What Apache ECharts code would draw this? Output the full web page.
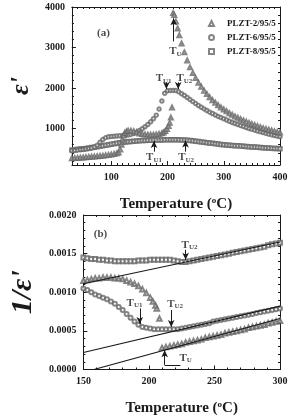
<!DOCTYPE html>
<html><head><meta charset="utf-8">
<script src="https://cdn.jsdelivr.net/npm/echarts@6/dist/echarts.min.js"></script>
<style>html,body{margin:0;padding:0;background:#fff}#c{width:291px;height:417px}</style>
</head><body><div id="c"></div>
<script>
// ---------- Panel (a): epsilon' vs temperature ----------
const tempA = [30,35,40,45,50,55,60,65,70,75,80,85,90,95,100,105,110,115,120,125,130,135,140,145,150,155,160,165,170,175,180,185,190,195,200,205,210,215,220,225,230,235,240,245,250,255,260,265,270,275,280,285,290,295,300,305,310,315,320,325,330,335,340,345,350,355,360,365,370,375,380,385,390,395,400];
const epsA_8 = [470,478,486,494,502,510,520,530,540,552,565,578,590,602,614,626,637,648,658,667,675,682,688,693,698,702,706,709,712,715,717,719,720,721,722,723,724,724,723,720,716,711,704,696,688,679,670,661,652,643,634,625,617,609,602,596,590,584,578,573,567,562,557,552,547,542,537,532,527,522,518,513,509,505,501];
const epsA_6 = [450,458,466,475,484,494,505,520,545,590,660,730,775,795,805,810,815,820,826,833,842,855,875,905,950,995,1045,1100,1165,1240,1330,1480,1680,1870,1930,1940,1942,1938,1905,1860,1815,1765,1715,1665,1615,1570,1525,1485,1445,1405,1370,1335,1300,1270,1240,1210,1180,1150,1125,1100,1075,1050,1025,1000,980,960,940,920,900,880,862,845,828,812,795];
const tempA_2 = [30,35,40,45,50,55,60,65,70,75,80,85,90,95,100,105,110,113,116,118,120,122,124,127,130,135,140,145,150,155,160,165,170,175,180,185,190,193,196,199,202,204,206,208,210,212,215,218,221,225,230,235,240,245,250,255,260,265,270,275,280,285,290,295,300,305,310,315,320,325,330,335,340,345,350,355,360,365,370,375,380,385,390,395,400];
const epsA_2 = [265,270,275,280,285,290,296,302,308,315,322,330,338,347,357,370,388,410,480,600,730,830,890,930,945,948,935,910,880,865,855,850,848,850,855,865,885,905,940,990,1060,1140,1270,1520,3850,3800,3640,3470,3300,3100,2880,2680,2510,2370,2245,2130,2030,1935,1850,1770,1700,1635,1575,1520,1470,1425,1380,1340,1300,1265,1230,1200,1170,1140,1110,1085,1060,1035,1010,990,970,950,930,915,900];

// ---------- Panel (b): 1/epsilon' vs temperature ----------
const tempB = [150,153,156,159,162,165,168,171,174,177,180,183,186,189,192,195,198,201,204,207,210,213,216,219,222,225,228,231,234,237,240,243,246,249,252,255,258,261,264,267,270,273,276,279,282,285,288,291,294,297,300];
const invB_8 = [0.00145,0.00144,0.00143,0.00143,0.00142,0.00142,0.00141,0.00141,0.00140,0.00140,0.00140,0.00140,0.00140,0.00140,0.00141,0.00141,0.00141,0.00142,0.00142,0.00142,0.00142,0.00142,0.00142,0.00141,0.00140,0.00139,0.00139,0.00140,0.00141,0.00142,0.00143,0.00144,0.00145,0.00146,0.00147,0.00148,0.00149,0.00150,0.00151,0.00152,0.00153,0.00154,0.00155,0.00156,0.00157,0.00158,0.00159,0.00161,0.00162,0.00163,0.00164];
const invB_6 = [0.00105,0.00103,0.00100,0.00097,0.00095,0.00093,0.00091,0.00088,0.00085,0.00081,0.00077,0.00072,0.00067,0.00062,0.00058,0.00055,0.00054,0.00053,0.00052,0.00052,0.00052,0.00052,0.00052,0.00052,0.00052,0.00053,0.00054,0.00055,0.00056,0.00057,0.00058,0.00059,0.00060,0.00062,0.00063,0.00064,0.00065,0.00066,0.00067,0.00068,0.00069,0.00070,0.00071,0.00072,0.00073,0.00074,0.00075,0.00076,0.00077,0.00078,0.00079];
const tempB_2 = [150,153,156,159,162,165,168,171,174,177,180,183,186,189,192,195,198,201,203,205,206,208,210,213,216,219,222,225,228,231,234,237,240,243,246,249,252,255,258,261,264,267,270,273,276,279,282,285,288,291,294,297,300];
const invB_2 = [0.00115,0.00116,0.00117,0.00118,0.00118,0.00119,0.00119,0.00119,0.00118,0.00118,0.00117,0.00115,0.00113,0.00111,0.00108,0.00104,0.00099,0.00093,0.00088,0.00083,0.00079,0.00066,0.00028,0.00029,0.00030,0.00031,0.00032,0.00033,0.00035,0.00036,0.00037,0.00038,0.00039,0.00041,0.00042,0.00043,0.00044,0.00045,0.00047,0.00048,0.00049,0.00050,0.00051,0.00052,0.00054,0.00055,0.00056,0.00057,0.00058,0.00060,0.00061,0.00062,0.00063];
// linear (Curie-Weiss) fit lines in panel (b): endpoints
const fitT_8 = [150, 300], fitV_8 = [0.00111, 0.00165];
const fitT_6 = [150, 300], fitV_6 = [0.00022, 0.00082];
const fitT_2 = [158, 300], fitV_2 = [0.0, 0.00066];

// tick labels
const xTicksA = [100, 200, 300, 400];
const yTicksA = [1000, 2000, 3000, 4000];
const xTicksB = [150, 200, 250, 300];
const yTicksB = [0, 0.0005, 0.0010, 0.0015, 0.0020];
const names = ['PLZT-2/95/5', 'PLZT-6/95/5', 'PLZT-8/95/5'];
const legendIcons = ['emptyTriangle', 'emptyCircle', 'emptyRect'];

// annotations [T, value, subscript]
const labelsA = [[214, 2900, 'U'], [193, 2240, 'U1'], [230, 2240, 'U2'], [176, 290, 'U1'], [233, 290, 'U2']];
const arrowsA = [[211, 3150, 211, 3720], [198, 2140, 198, 1975], [219, 2140, 219, 1975], [176, 430, 176, 690], [232, 430, 232, 705]];
const labelsB = [[231, 0.00161, 'U2'], [189, 0.00086, 'U1'], [220, 0.00085, 'U2'], [228, 0.00015, 'U']];
const arrowsB = [[228, 0.00155, 228, 0.00142], [193, 0.00079, 193, 0.00059], [217, 0.00077, 217, 0.00055], [212, 0.00006, 212, 0.00025]];
const segsB = [[212, 0.00006, 224, 0.00006]];

const FONT = 'Liberation Serif';
const INK = '#1a1a1a';
const MARK = '#666666';
function steps(a, b, s) { const r = []; for (let v = a; v <= b + 1e-12; v += s) r.push(+v.toFixed(6)); return r; }
function pairs(xs, ys) { const n = Math.min(xs.length, ys.length); const r = []; for (let i = 0; i < n; i++) r.push([xs[i], ys[i]]); return r; }

const lab = { fontFamily: FONT, fontWeight: 'bold', fontSize: 10, color: INK };
const tempName = '{a|Temperature (}{s|o}{a|C)}';
const tempRich = { a: { fontFamily: FONT, fontWeight: 'bold', fontSize: 15, color: INK }, s: { fontFamily: FONT, fontWeight: 'bold', fontSize: 9, color: INK, padding: [0, 0, 7, 0] } };

function xAxes(g, min, max, major, minor) {
  return [
    { gridIndex: g, type: 'value', min, max, position: 'bottom',
      axisLine: { onZero: false, lineStyle: { color: INK, width: 1 } },
      axisTick: { inside: true, length: 4, customValues: major, lineStyle: { color: INK } },
      axisLabel: Object.assign({ customValues: major, margin: 7 }, lab),
      splitLine: { show: false },
      name: tempName, nameLocation: 'middle', nameGap: 31, nameTextStyle: { rich: tempRich } },
    { gridIndex: g, type: 'value', min, max, position: 'bottom',
      axisLine: { show: false, onZero: false },
      axisTick: { inside: true, length: 2, customValues: minor, lineStyle: { color: INK } },
      axisLabel: { show: false }, splitLine: { show: false } },
    { gridIndex: g, type: 'value', min, max, position: 'top',
      axisLine: { onZero: false, lineStyle: { color: INK, width: 1 } },
      axisTick: { inside: true, length: 2, customValues: minor, lineStyle: { color: INK } },
      axisLabel: { show: false }, splitLine: { show: false } }
  ];
}
function yAxes(g, min, max, major, minor, name, nameSize, fmt, gap) {
  return [
    { gridIndex: g, type: 'value', min, max, position: 'left',
      axisLine: { onZero: false, lineStyle: { color: INK, width: 1 } },
      axisTick: { inside: true, length: 4, customValues: major, lineStyle: { color: INK } },
      axisLabel: Object.assign({ customValues: major, margin: 7, formatter: fmt }, lab),
      splitLine: { show: false },
      name, nameLocation: 'middle', nameGap: gap, nameRotate: 90,
      nameTextStyle: { fontFamily: FONT, fontWeight: 'bold', fontStyle: 'italic', fontSize: nameSize, color: INK } },
    { gridIndex: g, type: 'value', min, max, position: 'left',
      axisLine: { show: false, onZero: false },
      axisTick: { inside: true, length: 2, customValues: minor, lineStyle: { color: INK } },
      axisLabel: { show: false }, splitLine: { show: false } },
    { gridIndex: g, type: 'value', min, max, position: 'right',
      axisLine: { onZero: false, lineStyle: { color: INK, width: 1 } },
      axisTick: { inside: true, length: 2, customValues: minor, lineStyle: { color: INK } },
      axisLabel: { show: false }, splitLine: { show: false } }
  ];
}

const subRich = {
  t: { fontFamily: FONT, fontWeight: 'bold', fontSize: 11, color: INK },
  s: { fontFamily: FONT, fontWeight: 'bold', fontSize: 7, color: INK, padding: [5, 0, 0, 0] },
  p: { fontFamily: FONT, fontWeight: 'bold', fontSize: 11, color: INK }
};
function annoSeries(xi, yi, labels, arrows, segs) {
  const ml = arrows.map(a => [{ coord: [a[0], a[1]], symbol: 'none' }, { coord: [a[2], a[3]], symbol: 'arrow', symbolSize: [5, 7] }])
    .concat(segs.map(a => [{ coord: [a[0], a[1]], symbol: 'none' }, { coord: [a[2], a[3]], symbol: 'none' }]));
  return {
    type: 'scatter', xAxisIndex: xi, yAxisIndex: yi, symbolSize: 0, silent: true, z: 5,
    data: labels.map(l => ({ value: [l[0], l[1]], name: l[2] })),
    label: { show: true, position: 'inside', formatter: p => '{t|T}{s|' + p.name + '}', rich: subRich },
    markLine: { silent: true, animation: false, label: { show: false }, lineStyle: { color: INK, width: 1, type: 'solid' }, data: ml }
  };
}
function tagSeries(xi, yi, x, y, text) {
  return { type: 'scatter', xAxisIndex: xi, yAxisIndex: yi, symbolSize: 0, silent: true,
    data: [[x, y]], label: { show: true, position: 'inside', formatter: '{p|' + text + '}', rich: subRich } };
}
function scat(name, sym, xi, yi, data, size) {
  return { type: 'scatter', name, symbol: sym, symbolSize: size, xAxisIndex: xi, yAxisIndex: yi, data,
    itemStyle: { color: MARK, borderWidth: 0.8 }, silent: true };
}
function fit(xi, yi, xs, ys) {
  return { type: 'line', xAxisIndex: xi, yAxisIndex: yi, data: pairs(xs, ys), symbol: 'none', silent: true,
    lineStyle: { color: INK, width: 1.1 }, z: 3 };
}

const option = {
  animation: false,
  backgroundColor: '#fff',
  grid: [
    { left: 64, top: 7, width: 216, height: 158 },
    { left: 63, top: 215, width: 217, height: 159 }
  ],
  legend: {
    data: names.map((n, i) => ({ name: n, icon: legendIcons[i] })),
    orient: 'vertical', left: 203, top: 14, itemGap: 5, itemWidth: 5, itemHeight: 5,
    itemStyle: { borderWidth: 0.8 },
    textStyle: { fontFamily: FONT, fontWeight: 'bold', fontSize: 9, color: INK, padding: [0, 0, 0, 8] },
    selectedMode: false
  },
  xAxis: [].concat(
    xAxes(0, 30, 400, xTicksA, steps(30, 400, 10)),
    xAxes(1, 150, 300, xTicksB, steps(150, 300, 10))
  ),
  yAxis: [].concat(
    yAxes(0, 100, 4000, yTicksA, steps(200, 4000, 200), "ε'", 26, v => String(v), 34),
    yAxes(1, 0, 0.002, yTicksB, steps(0, 0.002, 0.0001), "1/ε'", 30, v => v.toFixed(4), 37)
  ),
  series: [
    scat(names[2], 'emptyRect', 0, 0, pairs(tempA, epsA_8), 3.5),
    scat(names[1], 'emptyCircle', 0, 0, pairs(tempA, epsA_6), 3.5),
    scat(names[0], 'emptyTriangle', 0, 0, pairs(tempA_2, epsA_2), 4),
    fit(3, 3, fitT_8, fitV_8),
    fit(3, 3, fitT_6, fitV_6),
    fit(3, 3, fitT_2, fitV_2),
    scat(names[2], 'emptyRect', 3, 3, pairs(tempB, invB_8), 4),
    scat(names[1], 'emptyCircle', 3, 3, pairs(tempB, invB_6), 4),
    scat(names[0], 'emptyTriangle', 3, 3, pairs(tempB_2, invB_2), 4.5),
    annoSeries(0, 0, labelsA, arrowsA, []),
    annoSeries(3, 3, labelsB, arrowsB, segsB),
    tagSeries(0, 0, 86, 3360, '(a)'),
    tagSeries(3, 3, 163, 0.00175, '(b)')
  ]
};
const chart = echarts.init(document.getElementById('c'), null, { renderer: 'canvas' });
chart.setOption(option);
</script>
</body></html>
